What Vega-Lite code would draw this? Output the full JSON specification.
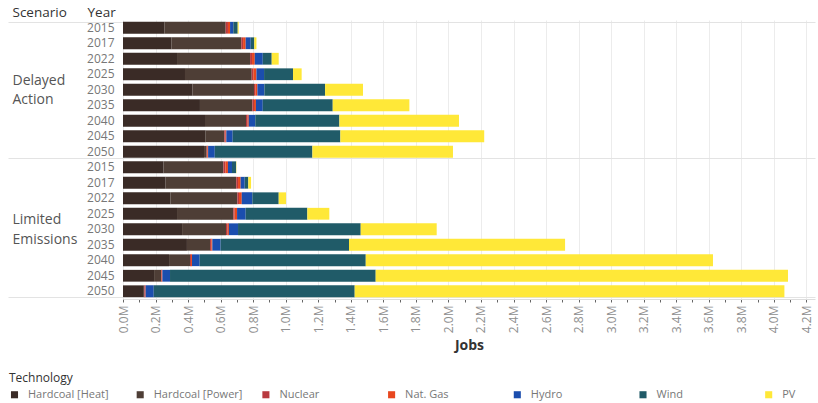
{
  "$schema": "https://vega.github.io/schema/vega-lite/v6.json",
  "width": 692,
  "height": 279,
  "autosize": {"type": "none"},
  "padding": {"left": 123, "top": 20, "right": 3, "bottom": 104},
  "background": "white",
  "config": {
    "font": "Open Sans",
    "view": {"stroke": null},
    "axis": {"labelFont": "Open Sans", "titleFont": "Open Sans"},
    "legend": {"labelFont": "Open Sans", "titleFont": "Open Sans"}
  },
  "data": {
    "values": [
      {"Scenario": "Delayed Action", "Year": "2015", "Heat": 254000, "Power": 377000, "Nuclear": 14000, "Gas": 13000, "Hydro": 20000, "Wind": 27000, "PV": 6000},
      {"Scenario": "Delayed Action", "Year": "2017", "Heat": 297000, "Power": 430000, "Nuclear": 11000, "Gas": 16000, "Hydro": 31000, "Wind": 22000, "PV": 13000},
      {"Scenario": "Delayed Action", "Year": "2022", "Heat": 332000, "Power": 449000, "Nuclear": 12000, "Gas": 17000, "Hydro": 49000, "Wind": 55000, "PV": 43000},
      {"Scenario": "Delayed Action", "Year": "2025", "Heat": 381000, "Power": 410000, "Nuclear": 10000, "Gas": 19000, "Hydro": 47000, "Wind": 178000, "PV": 53000},
      {"Scenario": "Delayed Action", "Year": "2030", "Heat": 426000, "Power": 379000, "Nuclear": 8000, "Gas": 13000, "Hydro": 43000, "Wind": 373000, "PV": 233000},
      {"Scenario": "Delayed Action", "Year": "2035", "Heat": 473000, "Power": 322000, "Nuclear": 10000, "Gas": 12000, "Hydro": 42000, "Wind": 430000, "PV": 471000},
      {"Scenario": "Delayed Action", "Year": "2040", "Heat": 504000, "Power": 252000, "Nuclear": 10000, "Gas": 7000, "Hydro": 40000, "Wind": 517000, "PV": 735000},
      {"Scenario": "Delayed Action", "Year": "2045", "Heat": 508000, "Power": 115000, "Nuclear": 8000, "Gas": 4000, "Hydro": 39000, "Wind": 662000, "PV": 884000},
      {"Scenario": "Delayed Action", "Year": "2050", "Heat": 498000, "Power": 16000, "Nuclear": 4000, "Gas": 5000, "Hydro": 41000, "Wind": 600000, "PV": 864000},
      {"Scenario": "Limited Emissions", "Year": "2015", "Heat": 248000, "Power": 369000, "Nuclear": 12000, "Gas": 16000, "Hydro": 25000, "Wind": 25000, "PV": 2000},
      {"Scenario": "Limited Emissions", "Year": "2017", "Heat": 262000, "Power": 434000, "Nuclear": 11000, "Gas": 16000, "Hydro": 25000, "Wind": 22000, "PV": 17000},
      {"Scenario": "Limited Emissions", "Year": "2022", "Heat": 291000, "Power": 412000, "Nuclear": 10000, "Gas": 17000, "Hydro": 65000, "Wind": 162000, "PV": 45000},
      {"Scenario": "Limited Emissions", "Year": "2025", "Heat": 332000, "Power": 346000, "Nuclear": 8000, "Gas": 15000, "Hydro": 53000, "Wind": 379000, "PV": 135000},
      {"Scenario": "Limited Emissions", "Year": "2030", "Heat": 363000, "Power": 270000, "Nuclear": 10000, "Gas": 8000, "Hydro": 56000, "Wind": 754000, "PV": 467000},
      {"Scenario": "Limited Emissions", "Year": "2035", "Heat": 393000, "Power": 142000, "Nuclear": 8000, "Gas": 6000, "Hydro": 51000, "Wind": 789000, "PV": 1328000},
      {"Scenario": "Limited Emissions", "Year": "2040", "Heat": 283000, "Power": 129000, "Nuclear": 6000, "Gas": 6000, "Hydro": 47000, "Wind": 1021000, "PV": 2134000},
      {"Scenario": "Limited Emissions", "Year": "2045", "Heat": 191000, "Power": 43000, "Nuclear": 4000, "Gas": 4000, "Hydro": 47000, "Wind": 1264000, "PV": 2534000},
      {"Scenario": "Limited Emissions", "Year": "2050", "Heat": 128000, "Power": 3000, "Nuclear": 4000, "Gas": 4000, "Hydro": 50000, "Wind": 1235000, "PV": 2641000}
    ]
  },
  "transform": [
    {"fold": ["Heat", "Power", "Nuclear", "Gas", "Hydro", "Wind", "PV"], "as": ["Technology", "Jobs"]},
    {"calculate": "datum.Scenario + '|' + datum.Year", "as": "Row"},
    {"calculate": "indexof(['Heat','Power','Nuclear','Gas','Hydro','Wind','PV'], datum.Technology)", "as": "TechOrder"}
  ],
  "encoding": {
    "x": {
      "field": "Jobs",
      "type": "quantitative",
      "stack": "zero",
      "scale": {"domain": [0, 4253000], "nice": false, "zero": true},
      "axis": {
        "title": "Jobs",
        "values": [0,100000,200000,300000,400000,500000,600000,700000,800000,900000,1000000,1100000,1200000,1300000,1400000,1500000,1600000,1700000,1800000,1900000,2000000,2100000,2200000,2300000,2400000,2500000,2600000,2700000,2800000,2900000,3000000,3100000,3200000,3300000,3400000,3500000,3600000,3700000,3800000,3900000,4000000,4100000,4200000],
        "labelExpr": "round(datum.value/100000) % 2 == 0 ? format(datum.value/1000000, '.1f') + 'M' : ''",
        "labelAngle": 270,
        "labelAlign": "right",
        "labelBaseline": "middle",
        "labelOverlap": false,
        "labelFlush": false,
        "labelFontSize": 12,
        "labelColor": "#8f8f8f",
        "labelPadding": 3,
        "tickSize": 3,
        "tickColor": "#666666",
        "domainColor": "#dddddd",
        "grid": true,
        "gridColor": "#ececec",
        "gridOpacity": {"condition": {"test": "round(datum.value/100000) % 2 == 0", "value": 1}, "value": 0},
        "titleFontSize": 14,
        "titleFontWeight": "bold",
        "titleColor": "#333333",
        "titlePadding": 6
      }
    }
  },
  "layer": [
    {
      "mark": {"type": "bar"},
      "encoding": {
        "y": {
          "field": "Row",
          "type": "nominal",
          "sort": null,
          "scale": {"paddingInner": 0.24, "paddingOuter": 0.12},
          "axis": {
            "orient": "left",
            "title": "Year",
            "titleAngle": 0,
            "titleAlign": "left",
            "titleBaseline": "middle",
            "titleX": -36,
            "titleY": -8,
            "titleFontSize": 13.5,
            "titleFontWeight": "normal",
            "titleColor": "#333333",
            "labelExpr": "split(datum.label, '|')[1]",
            "labelFontSize": 12,
            "labelColor": "#777777",
            "labelPadding": 9,
            "ticks": false,
            "tickSize": 0,
            "domain": false,
            "grid": false
          }
        },
        "color": {
          "field": "Technology",
          "type": "nominal",
          "scale": {
            "domain": ["Heat", "Power", "Nuclear", "Gas", "Hydro", "Wind", "PV"],
            "range": ["#3a2b26", "#4e3e36", "#b83a3f", "#e8471f", "#1b4eae", "#205b68", "#ffe838"]
          },
          "legend": {
            "orient": "none",
            "legendX": -114,
            "legendY": 353,
            "direction": "horizontal",
            "columns": 7,
            "gridAlign": "all",
            "columnPadding": 17.7,
            "title": "Technology",
            "titleFontSize": 12,
            "titleColor": "#333333",
            "titleFontWeight": "normal",
            "titlePadding": 4,
            "labelFontSize": 11,
            "labelColor": "#777777",
            "labelOffset": 8,
            "labelLimit": 200,
            "symbolType": "square",
            "symbolSize": 50,
            "symbolStrokeWidth": 0,
            "labelExpr": "datum.label == 'Heat' ? 'Hardcoal [Heat]' : datum.label == 'Power' ? 'Hardcoal [Power]' : datum.label == 'Gas' ? 'Nat. Gas' : datum.label"
          }
        },
        "order": {"field": "TechOrder", "type": "quantitative"}
      }
    },
    {
      "mark": {"type": "bar", "opacity": 0},
      "encoding": {
        "y": {
          "field": "Row",
          "type": "nominal",
          "sort": null,
          "scale": {"paddingInner": 0.24, "paddingOuter": 0.12},
          "axis": {
            "orient": "left",
            "values": ["Delayed Action|2030", "Limited Emissions|2030"],
            "labelExpr": "indexof(datum.label, 'Delayed') == 0 ? ['Delayed', 'Action'] : ['Limited', 'Emissions']",
            "labelAlign": "left",
            "labelBaseline": "middle",
            "labelPadding": 111,
            "labelOffset": -9,
            "labelFontSize": 14,
            "labelColor": "#555555",
            "labelLineHeight": 19.5,
            "ticks": false,
            "tickSize": 0,
            "domain": false,
            "grid": false,
            "title": "Scenario",
            "titleAngle": 0,
            "titleAlign": "left",
            "titleBaseline": "middle",
            "titleX": -111,
            "titleY": -8,
            "titleFontSize": 13.5,
            "titleFontWeight": "normal",
            "titleColor": "#333333"
          }
        }
      }
    },
    {
      "mark": {"type": "bar", "opacity": 0},
      "encoding": {
        "y": {
          "field": "Row",
          "type": "nominal",
          "sort": null,
          "scale": {"paddingInner": 0.24, "paddingOuter": 0.12},
          "axis": {
            "orient": "left",
            "tickBand": "extent",
            "labels": false,
            "ticks": true,
            "tickSize": 115,
            "tickColor": "#e3e3e3",
            "tickOpacity": {"condition": {"test": "datum.extra || indexof(datum.value, '2050') > 0", "value": 1}, "value": 0},
            "grid": true,
            "gridColor": "#e3e3e3",
            "gridOpacity": {"condition": {"test": "datum.extra || indexof(datum.value, '2050') > 0", "value": 1}, "value": 0},
            "domain": false,
            "title": null
          }
        }
      }
    }
  ],
  "resolve": {"axis": {"y": "independent"}}
}
